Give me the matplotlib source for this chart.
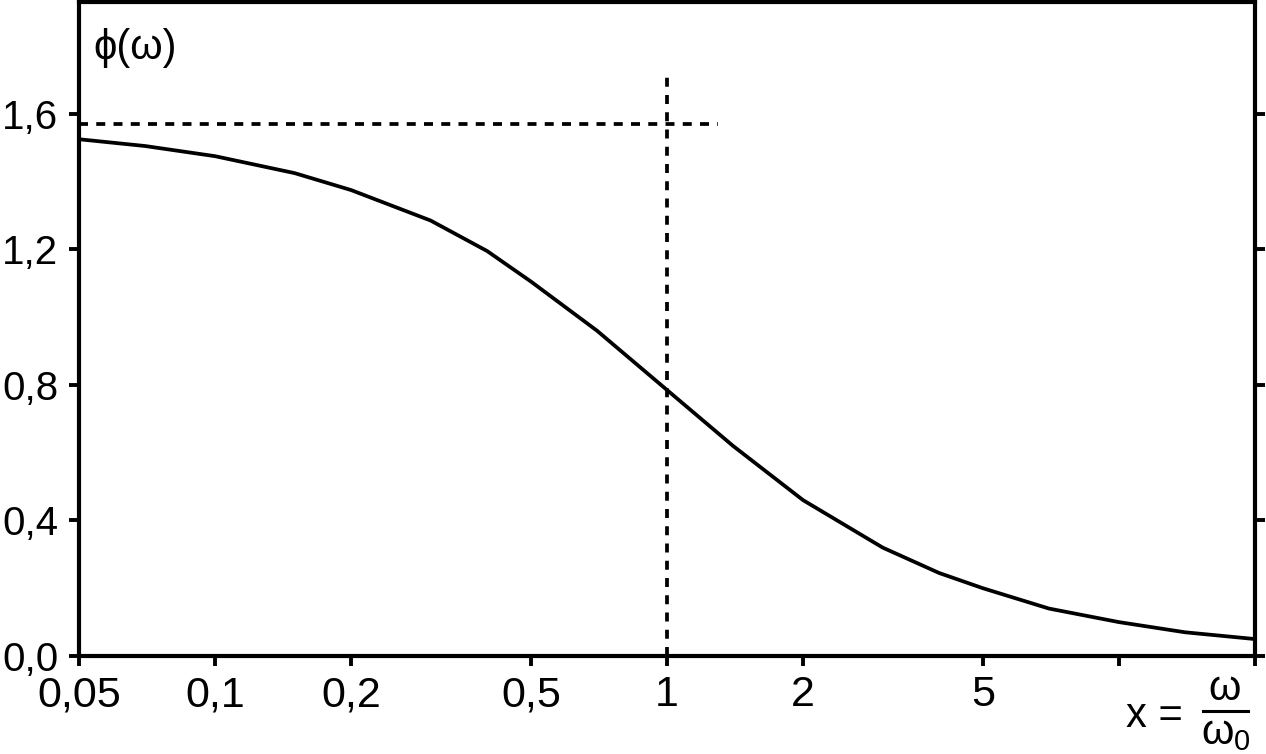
import matplotlib
matplotlib.use("Agg")
import matplotlib.pyplot as plt
from matplotlib.ticker import FixedLocator, NullLocator, FixedFormatter

plt.rcParams['font.family'] = ['Liberation Sans', 'DejaVu Sans']
plt.rcParams['mathtext.fontset'] = 'custom'
plt.rcParams['mathtext.rm'] = 'Liberation Sans'
plt.rcParams['mathtext.it'] = 'Liberation Sans'

# data
x_vals = [0.05, 0.07, 0.1, 0.15, 0.2, 0.3, 0.4, 0.5, 0.7, 1.0, 1.4, 2.0, 3.0, 4.0, 5.0, 7.0, 10.0, 14.0, 20.0]
phi_vals = [1.525, 1.505, 1.475, 1.425, 1.375, 1.285, 1.195, 1.105, 0.96, 0.785, 0.62, 0.46, 0.32, 0.245, 0.20, 0.14, 0.10, 0.07, 0.05]

x_ticks = [0.05, 0.1, 0.2, 0.5, 1, 2, 5, 10, 20]
x_tick_labels = ["0,05", "0,1", "0,2", "0,5", "1", "2", "5", "", ""]
y_ticks = [0.0, 0.4, 0.8, 1.2, 1.6]
y_tick_labels = ["0,0", "0,4", "0,8", "1,2", "1,6"]

asymptote_y = 1.571
asymptote_x_end = 1.3
corner_x = 1.0
corner_y_top = 1.725

W, H = 1266, 754
fig = plt.figure(figsize=(W / 100, H / 100), dpi=100)
ax = fig.add_axes([79 / W, 1 - 656 / H, (1255 - 79) / W, (656 - 2) / H])

ax.set_xscale('log')
ax.set_xlim(0.05, 20)
ax.set_ylim(0, 1.93)

ax.plot(x_vals, phi_vals, color='black', lw=2.7, solid_joinstyle='round')
ax.plot([0.05, asymptote_x_end], [asymptote_y, asymptote_y], color='black', lw=2.7,
        dashes=(2.4, 2.2))
ax.plot([corner_x, corner_x], [0, corner_y_top], color='black', lw=2.7,
        dashes=(2.4, 2.2))

for s in ax.spines.values():
    s.set_linewidth(3.0)

ax.xaxis.set_major_locator(FixedLocator(x_ticks))
ax.xaxis.set_major_formatter(FixedFormatter(x_tick_labels))
ax.xaxis.set_minor_locator(NullLocator())
ax.set_yticks(y_ticks)
ax.set_yticklabels(y_tick_labels)

ax.tick_params(axis='both', which='major', direction='out', length=7, width=2.8,
               color='black')
ax.tick_params(axis='y', right=True, labelright=False, pad=8, labelsize=29)
ax.tick_params(axis='x', pad=7, labelsize=31)

def px(x, y):
    return x / W, 1 - y / H

fig.text(*px(93, 48), "ϕ(ω)", fontsize=30, ha='left', va='center')

fig.text(*px(1154, 716), "x =", fontsize=30, ha='center', va='center')
fig.text(*px(1225, 689), "ω", fontsize=30, ha='center', va='center')
fig.add_artist(plt.Line2D([1203 / W, 1248 / W], [1 - 711 / H, 1 - 711 / H],
                          color='black', lw=2.2, transform=fig.transFigure))
fig.text(*px(1226, 733), r"$\omega_0$", fontsize=30, ha='center', va='center')

fig.savefig("out.png", dpi=100)
